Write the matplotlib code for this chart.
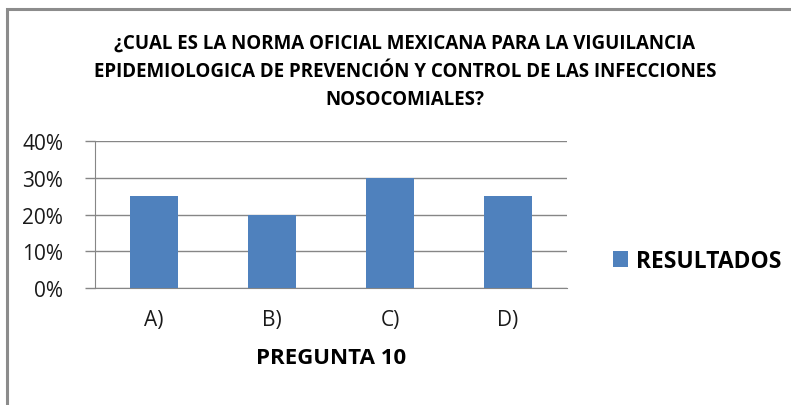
import matplotlib
matplotlib.use("Agg")
import matplotlib.pyplot as plt
from matplotlib import font_manager
from matplotlib.patches import Rectangle

categories = ["A)", "B)", "C)", "D)"]
values = [0.25, 0.20, 0.30, 0.25]
yticks = [0.0, 0.1, 0.2, 0.3, 0.4]
ytick_labels = ["0%", "10%", "20%", "30%", "40%"]
series_name = "RESULTADOS"
title = ("¿CUAL ES LA NORMA OFICIAL MEXICANA PARA LA VIGUILANCIA\n"
         "EPIDEMIOLOGICA DE PREVENCIÓN Y CONTROL DE LAS INFECCIONES\n"
         "NOSOCOMIALES?")
xlabel = "PREGUNTA 10"

avail = {f.name for f in font_manager.fontManager.ttflist}
fam = "Liberation Sans Narrow" if "Liberation Sans Narrow" in avail else "Open Sans"
plt.rcParams["font.family"] = [fam, "DejaVu Sans"]

W, H = 791, 406
fig = plt.figure(figsize=(W / 100, H / 100), dpi=100)

# outer chart frame
fig.patches.append(Rectangle((7 / W, -0.05), 1.2, (H - 10) / H + 0.05,
                             transform=fig.transFigure, fill=False,
                             edgecolor="#8c8c8c", linewidth=2.2))

ax = fig.add_axes([95 / W, (H - 289) / H, (567 - 95) / W, (289 - 142) / H])
x = range(len(categories))
ax.bar(x, values, width=0.4, color="#4F81BD", label=series_name, zorder=3)
ax.set_xlim(-0.5, len(categories) - 0.5)
ax.set_ylim(0, 0.4)
ax.set_yticks(yticks)
ax.set_yticklabels(ytick_labels, fontsize=15, color="#1a1a1a")
ax.set_xticks(list(x))
ax.set_xticklabels(categories, fontsize=15, color="#1a1a1a")
ax.tick_params(axis="x", length=0, pad=15)
ax.tick_params(axis="y", length=7, color="#868686", width=1, pad=16)
ax.grid(axis="y", color="#868686", linewidth=1, zorder=0)
for s in ["top", "right"]:
    ax.spines[s].set_visible(False)
ax.spines["left"].set_color("#868686")
ax.spines["bottom"].set_color("#868686")
ax.set_xlabel(xlabel, fontsize=16, fontweight="bold", labelpad=12)

fig.text(405 / W, 1 - 72 / H, title, ha="center", va="center",
         fontsize=13.5, fontweight="bold", linespacing=1.55)

leg = fig.legend(loc="center left", bbox_to_anchor=(592 / W, 1 - 262 / H),
                 frameon=False, prop={"size": 16.5, "weight": "bold"},
                 handlelength=0.65, handleheight=0.65, handletextpad=0.35)

fig.savefig("out.png", dpi=100)
